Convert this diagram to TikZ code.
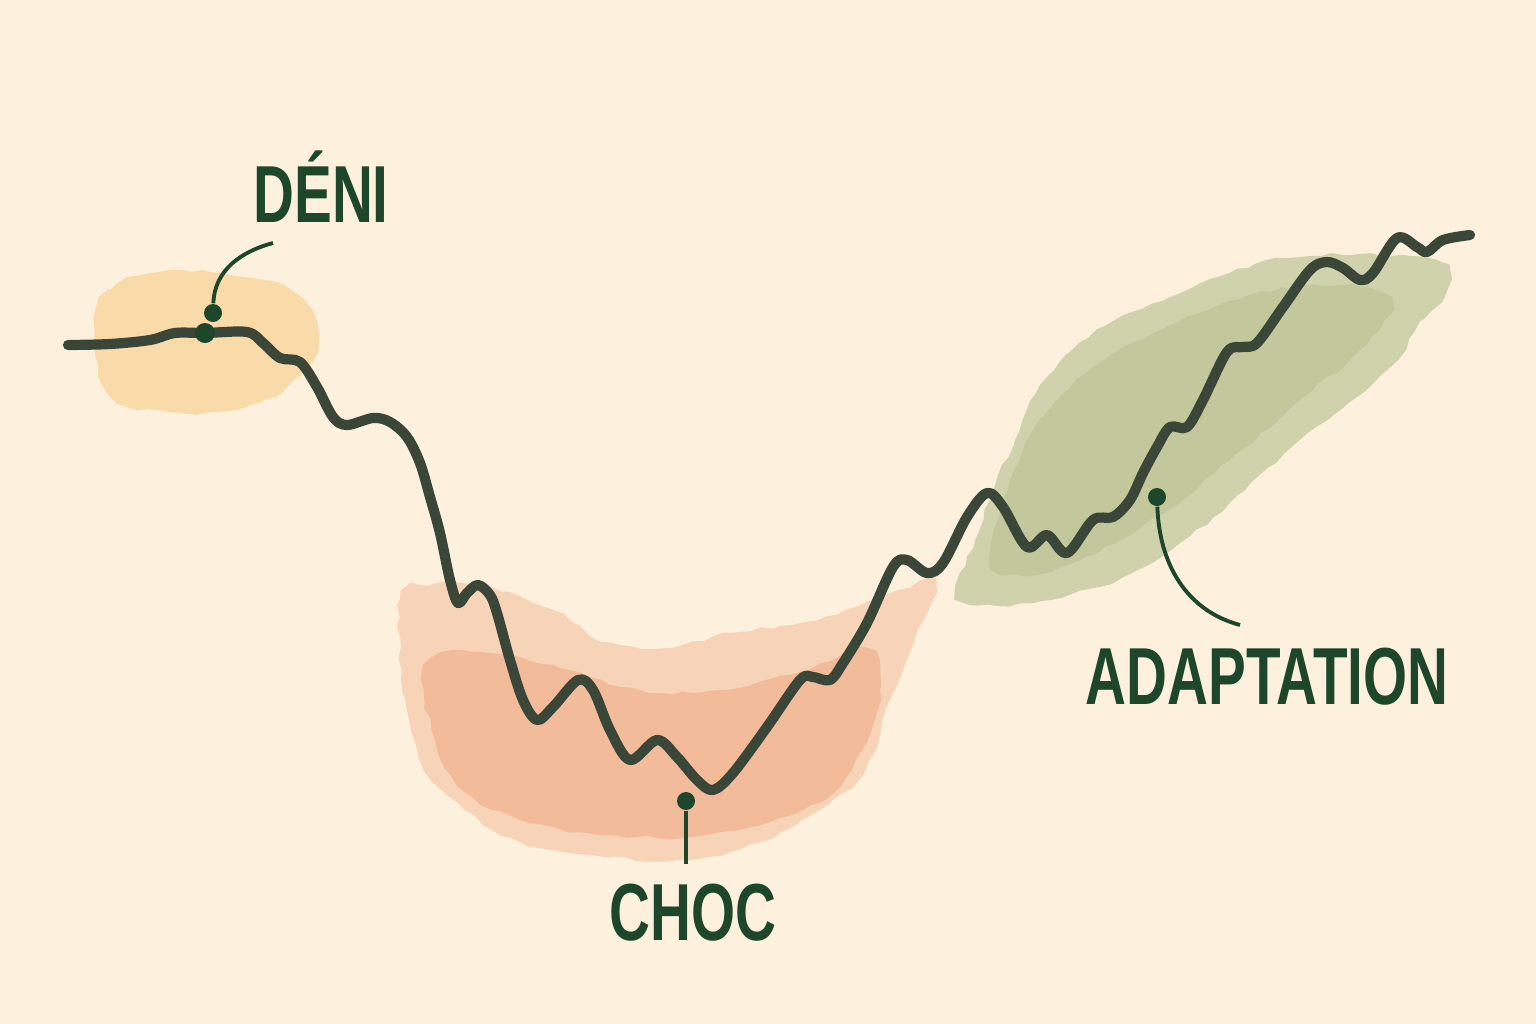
\documentclass[tikz,border=0pt]{standalone}
\usepackage{fontspec}
\usepackage{tikz}
\usetikzlibrary{decorations.pathmorphing}
\newfontfamily\labelfont[FakeStretch=0.7]{Liberation Sans}
\definecolor{paper}{RGB}{253,241,221}
\definecolor{ink}{RGB}{29,70,42}
\definecolor{curveink}{RGB}{58,70,55}
\definecolor{peach}{RGB}{249,214,160}
\definecolor{salmon}{RGB}{243,185,148}
\definecolor{salmondeep}{RGB}{238,163,126}
\definecolor{sage}{RGB}{190,197,152}
\definecolor{sagedeep}{RGB}{168,180,128}
\tikzstyle{wash} = [decorate, decoration={random steps, segment length=3pt, amplitude=0.5pt}]
\tikzstyle{stage} = [text=ink, font=\labelfont\bfseries\fontsize{23}{23}\selectfont, anchor=base, inner sep=0pt]
\tikzstyle{dot} = [circle, fill=ink, inner sep=0pt, minimum size=0.18cm]
\tikzstyle{leader} = [draw=ink, line width=1.1pt]

\begin{document}
\begin{tikzpicture}[x=0.01cm, y=-0.01cm]

%paper
\fill[paper] (0,0) rectangle (1536,1024);
\useasboundingbox (0,0) rectangle (1536,1024);

%washes
\fill[peach, opacity=0.85, wash] plot[smooth cycle, tension=0.7] coordinates {
  (95,330) (110,290) (160,272) (230,275) (290,290) (318,330) (300,375) (250,405) (170,412) (110,395)};
\fill[salmon, opacity=0.5, wash] plot[smooth cycle, tension=0.6] coordinates {
  (400,600) (430,585) (480,585) (553,610) (600,640) (663,648) (730,633) (817,620) (900,590) (935,582)
  (915,640) (890,700) (865,770) (820,810) (760,842) (690,860) (600,856) (520,842) (465,810) (425,770) (405,700)};
\fill[salmondeep, opacity=0.5, wash] plot[smooth cycle, tension=0.6] coordinates {
  (425,665) (480,652) (560,668) (640,690) (720,690) (800,672) (865,648) (880,690) (862,750) (830,795)
  (770,822) (700,836) (600,835) (520,820) (465,792) (435,740)};
\fill[sage, opacity=0.7, wash] plot[smooth cycle, tension=0.6] coordinates {
  (957,595) (975,540) (995,485) (1015,440) (1035,395) (1072,350) (1115,320) (1170,297) (1255,264) (1300,257)
  (1360,254) (1440,262) (1445,292) (1420,322) (1397,360) (1360,395) (1300,440) (1245,490) (1190,536)
  (1130,574) (1072,594) (1000,606)};
\fill[sagedeep, opacity=0.35, wash] plot[smooth cycle, tension=0.6] coordinates {
  (990,560) (1010,480) (1040,420) (1090,370) (1160,330) (1250,295) (1340,285) (1390,300) (1360,350)
  (1300,400) (1230,460) (1160,515) (1080,560) (1020,575)};

%trajectory
\draw[curveink, line width=2.9pt, line cap=round, line join=round] plot[smooth, tension=0.55] coordinates {
  (68,345) (110,344) (150,340) (175,333) (205,333) (247,332) (263,343) (280,358) (300,362) (317,387)
  (333,417) (347,425) (373,418) (390,422) (407,437) (420,463) (430,497) (440,533) (450,580) (458,603)
  (467,593) (478,585) (490,595) (497,613) (510,660) (523,700) (537,720) (553,707) (578,680) (593,690)
  (610,730) (630,760) (657,740) (677,757) (697,780) (713,790) (733,773) (767,727) (800,680) (813,677)
  (830,680) (843,663) (867,623) (893,567) (907,560) (927,573) (943,563) (967,517) (987,493) (1003,507)
  (1027,547) (1047,535) (1067,553) (1093,520) (1113,517) (1130,500) (1143,473) (1157,447) (1170,427)
  (1187,427) (1203,400) (1227,352) (1243,347) (1257,343) (1283,307) (1310,270) (1327,262) (1343,268)
  (1360,280) (1373,273) (1397,238) (1417,247) (1427,252) (1443,240) (1470,235)};
\node[dot, minimum size=0.2cm] (denimark) at (205,333) {};

%Deni
\node[stage] (deni) at (321,222) {DÉNI};
\node[dot] (denidot) at (213,313) {};
\coordinate (deniend) at (273,243);
\draw[leader] (denidot) to[out=88, in=195] (deniend);

%Choc
\node[stage] (choc) at (693,940) {CHOC};
\node[dot] (chocdot) at (686,801) {};
\coordinate (chocend) at (686,864);
\draw[leader] (chocdot) -- (chocend);

%Adaptation
\node[stage] (adapt) at (1267,704) {ADAPTATION};
\node[dot] (adaptdot) at (1157,497) {};
\coordinate (adaptend) at (1240,625);
\draw[leader] (adaptdot) to[out=-88, in=165] (adaptend);

\end{tikzpicture}
\end{document}
